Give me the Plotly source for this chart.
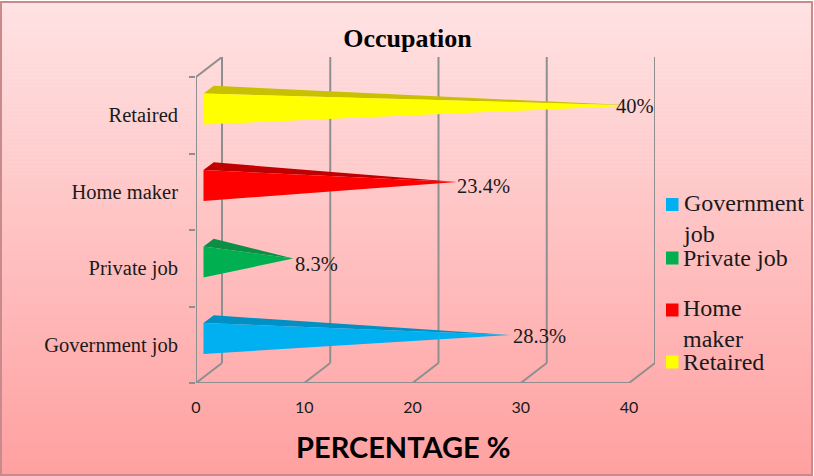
import plotly.graph_objects as go

# ---- data ----
categories = ["Government job", "Private job", "Home maker", "Retaired"]
values = [28.3, 8.3, 23.4, 40]
value_labels = ["28.3%", "8.3%", "23.4%", "40%"]
label_shift_x = [1, 0, -2, -22]
label_shift_y = [-1, -5, -4, 0]
legend_labels = ["Government<br>job", "Private job", "Home<br>maker", "Retaired"]
front_colors = ["#00B0F0", "#00B050", "#FF0000", "#FFFF00"]
top_colors = ["#0090C4", "#0A8F45", "#C00000", "#C8C000"]
x_ticks = [0, 10, 20, 30, 40]
y_ticks = [0, 1, 2, 3, 4]

# ---- layout constants ----
W, H = 814, 476
L, R, T, B = 196, 655, 57, 383
px_per_x = 10.825
px_per_y = 76.5
x_max = (R - L) / px_per_x
y_max = (B - T) / px_per_y
depth_x = 26 / px_per_x
depth_y = 20 / px_per_y
base_x = 0.69
GRID = "#8F8F8F"
SERIF = "Liberation Serif"
TXT = "#1A1A1A"

def mix(a, b, t):
    return tuple(round(a[i] + (b[i] - a[i]) * t) for i in range(3))

fig = go.Figure()
shapes = []
annotations = []

# background gradient
BG_STEPS = 118
y_top, y_bot = 2, 475
for s in range(BG_STEPS):
    t0 = s / BG_STEPS
    t1 = (s + 1) / BG_STEPS
    c = mix((255, 226, 227), (255, 160, 160), t0)
    shapes.append(dict(type="rect", xref="paper", yref="paper", layer="below",
                       x0=(1 - L) / (R - L), x1=(812 - L) / (R - L),
                       y0=(B - (y_top + (y_bot - y_top) * t1) - 0.5) / (B - T),
                       y1=(B - (y_top + (y_bot - y_top) * t0)) / (B - T),
                       fillcolor=f"rgb{c}", line=dict(width=0)))
# border
shapes.append(dict(type="rect", xref="paper", yref="paper", layer="below",
                   x0=(1 - L) / (R - L), x1=(812 - L) / (R - L),
                   y0=(B - 475) / (B - T), y1=(B - 2) / (B - T),
                   fillcolor="rgba(0,0,0,0)", line=dict(color="#C98A8C", width=2)))

# 3D frame drawn from the axis ticks
line = dict(color=GRID, width=2)
for v in x_ticks:
    shapes.append(dict(type="line", x0=v, x1=v + depth_x, y0=0, y1=depth_y, line=line, layer="below"))
    shapes.append(dict(type="line", x0=v + depth_x, x1=v + depth_x, y0=depth_y, y1=4 + depth_y, line=line, layer="below"))
shapes.append(dict(type="line", x0=0, x1=40, y0=0, y1=0, line=line, layer="below"))
shapes.append(dict(type="line", x0=0, x1=0, y0=0, y1=4, line=line, layer="below"))
shapes.append(dict(type="line", x0=0, x1=depth_x, y0=4, y1=4 + depth_y, line=line, layer="below"))

# cones
for i, (v, fc, tc) in enumerate(zip(values, front_colors, top_colors)):
    top, bot, tip = i + 0.784, i + 0.38, i + 0.627
    fig.add_trace(go.Scatter(x=[base_x, base_x + 0.95, v + base_x, base_x],
                             y=[top, top + 0.1, tip, top],
                             mode="lines", fill="toself", fillcolor=tc,
                             line=dict(width=0, color=tc), hoverinfo="skip", showlegend=False,
                             cliponaxis=False))
    fig.add_trace(go.Scatter(x=[base_x, base_x, v + base_x, base_x],
                             y=[bot, top, tip, bot],
                             mode="lines", fill="toself", fillcolor=fc,
                             line=dict(width=0, color=fc), name=categories[i],
                             hoverinfo="name", showlegend=False, cliponaxis=False))
    annotations.append(dict(x=v + base_x, y=tip, xref="x", yref="y", text=value_labels[i],
                            showarrow=False, xanchor="left", yanchor="middle",
                            xshift=label_shift_x[i], yshift=label_shift_y[i],
                            font=dict(family=SERIF, size=20.5, color=TXT)))

# legend, hand placed
swatch_y = [204.5, 258, 310, 362]
text_y = [218, 258, 323, 362]
for label, color, sy, ty in zip(legend_labels, front_colors, swatch_y, text_y):
    shapes.append(dict(type="rect", xref="paper", yref="paper",
                       x0=(666 - L) / (R - L), x1=(678.5 - L) / (R - L),
                       y0=(B - sy - 6.5) / (B - T), y1=(B - sy + 6.5) / (B - T),
                       fillcolor=color, line=dict(width=0)))
    annotations.append(dict(x=(681 - L) / (R - L), y=(B - ty) / (B - T), xref="paper", yref="paper",
                            text=label, showarrow=False, xanchor="left", yanchor="middle", align="left",
                            font=dict(family=SERIF, size=24, color=TXT)))

# x title
annotations.append(dict(x=(403.5 - L) / (R - L), y=(B - 446) / (B - T), xref="paper", yref="paper",
                        text="<b>PERCENTAGE %</b>", showarrow=False, xanchor="center", yanchor="middle",
                        font=dict(family="Lato", size=29, color="#000000")))

fig.update_layout(
    width=W, height=H, autosize=False,
    margin=dict(l=L, r=W - R, t=T, b=H - B, pad=0),
    paper_bgcolor="white", plot_bgcolor="rgba(0,0,0,0)",
    showlegend=False,
    title=dict(text="<b>Occupation</b>", x=407.5 / W, xanchor="center", xref="container",
               y=1 - 38 / H, yanchor="middle", yref="container",
               font=dict(family=SERIF, size=26, color="#000000")),
    shapes=shapes, annotations=annotations,
    xaxis=dict(range=[0, x_max], tickmode="array", tickvals=x_ticks, showgrid=False, zeroline=False,
               showline=False, ticks="", ticklabelstandoff=13,
               tickfont=dict(family="Lato", size=16, color="#1A1A1A")),
    yaxis=dict(range=[0, y_max], tickmode="array", tickvals=[i + 0.5 for i in range(len(categories))],
               ticktext=categories, showgrid=False, zeroline=False, showline=False, ticks="",
               ticklabelstandoff=17, tickfont=dict(family=SERIF, size=20.5, color=TXT),
               minor=dict(tickmode="array", tickvals=y_ticks, ticks="outside", ticklen=6,
                          tickcolor=GRID, tickwidth=1.5, showgrid=False)),
)
fig.write_html("out.html", config=dict(displayModeBar=False),
               post_script="document.body.style.margin='0';")
